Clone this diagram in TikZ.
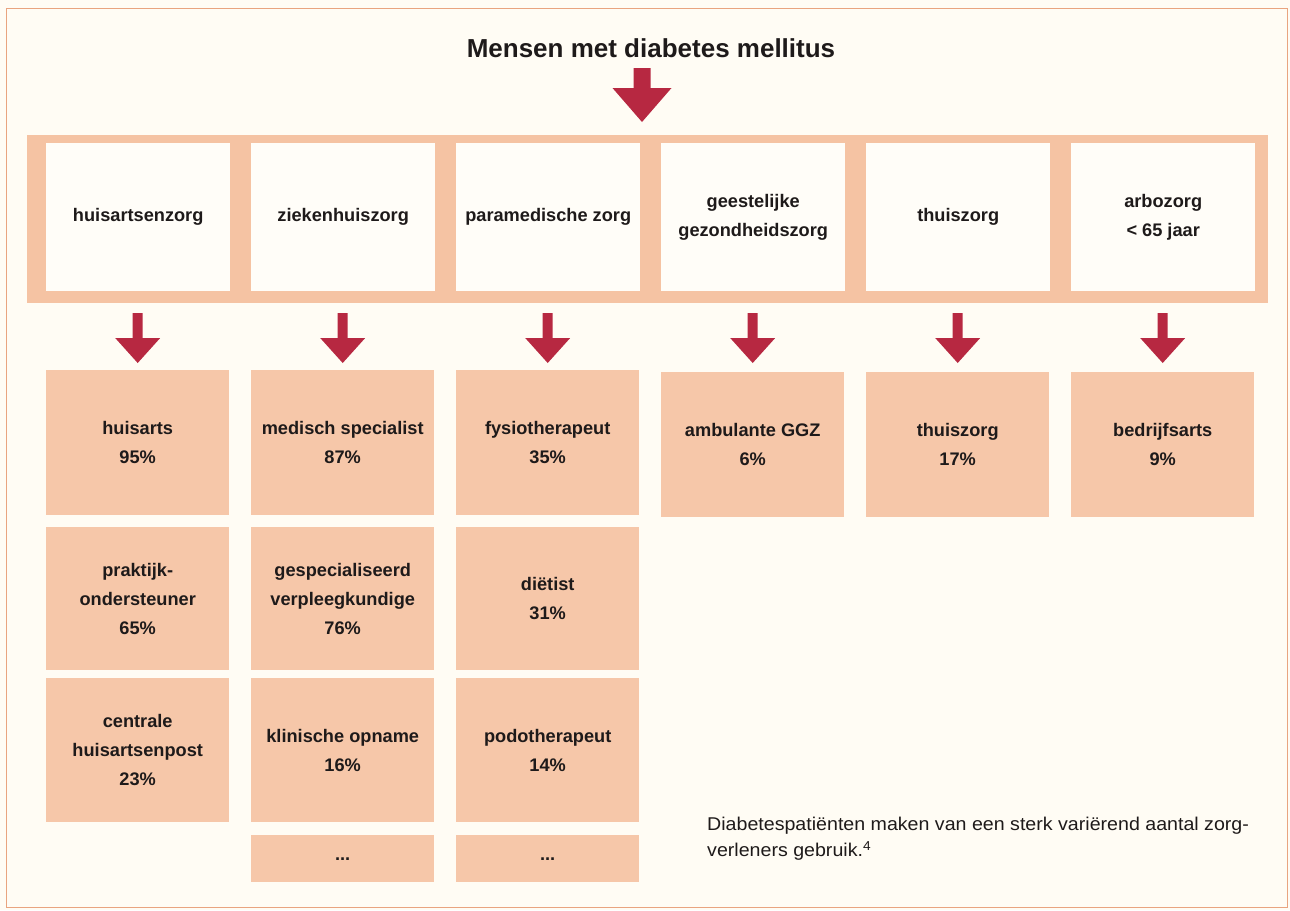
\documentclass[tikz,border=0pt]{standalone}
\usepackage{fontspec}
\setmainfont{Liberation Sans}
\newfontfamily\capfont[FakeStretch=1.06]{Liberation Sans}
\definecolor{bgcream}{HTML}{FFFCF4}
\definecolor{framecol}{HTML}{E9A47F}
\definecolor{peach}{HTML}{F6C7A9}
\definecolor{bandcol}{HTML}{F5C3A3}
\definecolor{boxwhite}{HTML}{FFFDF8}
\definecolor{arrowred}{HTML}{B72841}
\definecolor{txt}{HTML}{1E1A1A}
\tikzset{
  boxfont/.style={font=\bfseries\fontsize{18.2}{29}\selectfont, text=txt},
  topbox/.style={boxfont, rectangle, fill=boxwhite, minimum width=184pt, minimum height=148pt, inner sep=0pt, align=center, anchor=north west},
  lowbox/.style={boxfont, rectangle, fill=peach, minimum width=183pt, minimum height=145pt, inner sep=0pt, align=center, anchor=north west},
  pics/smallarrow/.style={code={
    \fill[arrowred] (-5,-50) -- (5,-50) -- (5,-25) -- (22.5,-25) -- (0,0) -- (-22.5,-25) -- (-5,-25) -- cycle;}},
  pics/bigarrow/.style={code={
    \fill[arrowred] (-8.5,-54) -- (8.5,-54) -- (8.5,-34) -- (29.5,-34) -- (0,0) -- (-29.5,-34) -- (-8.5,-34) -- cycle;}}
}
\begin{document}
\begin{tikzpicture}[x=1pt,y=-1pt]
\useasboundingbox (0,0) rectangle (1290,910);
\fill[bgcream] (0,0) rectangle (1290,910);
\draw[framecol, line width=1pt] (6,8) rectangle (1287,907);

% title
\node[font=\bfseries\fontsize{26}{30}\selectfont, text=txt] (title) at (651,48) {Mensen met diabetes mellitus};

% band
\node[fill=bandcol, minimum width=1241pt, minimum height=168pt, inner sep=0pt, anchor=north west] (band) at (27,135) {};

% top boxes
\node[topbox] (top1) at (46,143) {huisartsenzorg};
\node[topbox] (top2) at (251,143) {ziekenhuiszorg};
\node[topbox] (top3) at (456,143) {paramedische zorg};
\node[topbox] (top4) at (661,143) {geestelijke\\gezondheidszorg};
\node[topbox] (top5) at (866,143) {thuiszorg};
\node[topbox] (top6) at (1071,143) {arbozorg\\< 65 jaar};

\pic at ([yshift=13pt]band.north -| 642,0) {bigarrow};

% row 1
\node[lowbox] (a1) at (46,370) {huisarts\\95\%};
\node[lowbox] (b1) at (251,370) {medisch specialist\\87\%};
\node[lowbox] (c1) at (456,370) {fysiotherapeut\\35\%};
\node[lowbox] (d1) at (661,372) {ambulante GGZ\\6\%};
\node[lowbox] (e1) at (866,372) {thuiszorg\\17\%};
\node[lowbox] (f1) at (1071,372) {bedrijfsarts\\9\%};

% row 2
\node[lowbox, minimum height=143pt] (a2) at (46,527) {praktijk-\\ondersteuner\\65\%};
\node[lowbox, minimum height=143pt] (b2) at (251,527) {gespecialiseerd\\verpleegkundige\\76\%};
\node[lowbox, minimum height=143pt] (c2) at (456,527) {diëtist\\31\%};

% row 3
\node[lowbox, minimum height=144pt] (a3) at (46,678) {centrale\\huisartsenpost\\23\%};
\node[lowbox, minimum height=144pt] (b3) at (251,678) {klinische opname\\16\%};
\node[lowbox, minimum height=144pt] (c3) at (456,678) {podotherapeut\\14\%};

% row 4
\node[lowbox, minimum height=47pt] (b4) at (251,835) {...};
\node[lowbox, minimum height=47pt] (c4) at (456,835) {...};

% arrows
\pic at ([yshift=7pt]a1.north) {smallarrow};
\pic at ([yshift=7pt]b1.north) {smallarrow};
\pic at ([yshift=7pt]c1.north) {smallarrow};
\pic at ([yshift=9pt]d1.north) {smallarrow};
\pic at ([yshift=9pt]e1.north) {smallarrow};
\pic at ([yshift=9pt]f1.north) {smallarrow};

% caption
\node[anchor=north west, align=left, inner sep=0pt, text=txt, font=\capfont\fontsize{18.5}{26}\selectfont] (cap) at (707,817)
  {Diabetespatiënten maken van een sterk variërend aantal zorg-\\verleners gebruik.\textsuperscript{4}};
\end{tikzpicture}
\end{document}
